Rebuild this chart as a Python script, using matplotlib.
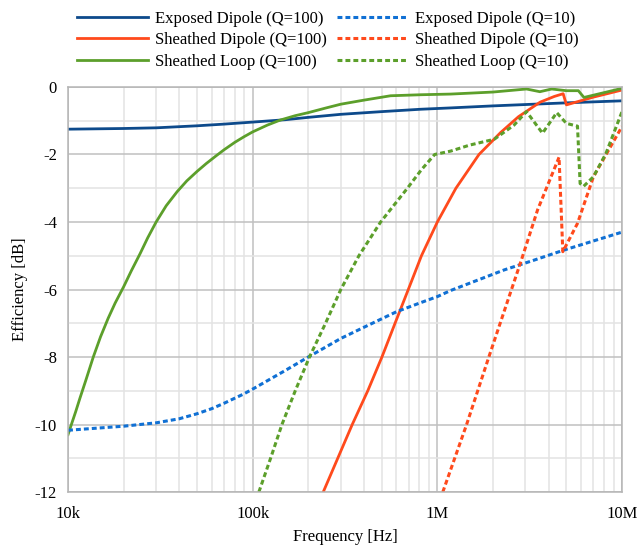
import numpy as np
from matplotlib import pyplot as plt
from matplotlib.ticker import FixedLocator, LogLocator, NullFormatter, MultipleLocator

plt.rcParams['font.family'] = ['Liberation Serif', 'DejaVu Serif']
plt.rcParams['axes.unicode_minus'] = False

# frequencies in Hz, efficiency in dB
exp_q100_f = [1e4, 2e4, 3e4, 5e4, 7e4, 1e5, 1.5e5, 2e5, 3e5, 5e5, 8.1e5, 1.18e6, 2e6, 5e6, 1e7]
exp_q100_db = [-1.25, -1.23, -1.21, -1.15, -1.1, -1.04, -0.97, -0.9, -0.81, -0.73, -0.66, -0.62, -0.56, -0.47, -0.41]

exp_q10_f = [1e4, 2e4, 3e4, 4e4, 5e4, 6e4, 7e4, 8e4, 8.9e4, 1e5, 1.5e5, 2e5, 3e5, 4e5, 6e5, 8.12e5,
             1e6, 1.18e6, 2.3e6, 3.34e6, 4.86e6, 1e7]
exp_q10_db = [-10.17, -10.05, -9.95, -9.83, -9.68, -9.53, -9.37, -9.22, -9.1, -8.95, -8.4, -8.0, -7.45, -7.12,
              -6.66, -6.39, -6.21, -6.03, -5.42, -5.13, -4.83, -4.3]

sh_q100_f = [2.41e5, 3.46e5, 4.2e5, 5.01e5, 5.9e5, 6.96e5, 8.2e5, 1e6, 1.26e6, 1.68e6, 2.2e6, 2.75e6,
             3.6e6, 4.3e6, 4.8e6, 5.0e6, 7e6, 1e7]
sh_q100_db = [-12, -10, -9, -8, -7, -6, -5, -4, -3, -2, -1.35, -0.88,
              -0.45, -0.28, -0.2, -0.53, -0.3, -0.09]

sh_q10_f = [1.07e6, 1.44e6, 1.9e6, 2.52e6, 2.85e6, 3.49e6, 4.56e6, 4.78e6, 5.74e6, 7e6, 1e7]
sh_q10_db = [-12, -10, -8, -6, -5.13, -3.64, -2.08, -4.88, -4.04, -2.66, -1.17]

loop_q100_f = [1e4, 1.05e4, 1.1e4, 1.16e4, 1.25e4, 1.37e4, 1.5e4, 1.65e4, 1.8e4, 2e4, 2.2e4, 2.46e4,
               2.7e4, 3e4, 3.4e4, 3.9e4, 4.4e4, 5e4, 5.6e4, 6.3e4, 7e4, 8e4, 9e4, 1e5, 1.2e5, 1.41e5,
               1.7e5, 2e5, 2.5e5, 3e5, 4e5, 5.58e5, 8.12e5, 1.18e6, 2e6, 3.04e6, 3.59e6, 4.16e6, 5e6,
               5.8e6, 6.22e6, 1e7]
loop_q100_db = [-10.3, -9.95, -9.62, -9.22, -8.68, -8.0, -7.4, -6.85, -6.4, -5.92, -5.45, -4.93,
                -4.47, -4.0, -3.52, -3.1, -2.78, -2.5, -2.27, -2.05, -1.86, -1.64, -1.47, -1.33, -1.13, -0.98,
                -0.85, -0.76, -0.62, -0.51, -0.39, -0.26, -0.23, -0.21, -0.15, -0.06, -0.14, -0.06, -0.11,
                -0.11, -0.31, -0.04]

loop_q10_f = [1.08e5, 1.25e5, 1.44e5, 1.7e5, 2.03e5, 2.48e5, 3e5, 3.76e5, 4.93e5, 6.88e5, 8.2e5, 9.67e5,
              1.18e6, 1.5e6, 2.03e6, 2.6e6, 3.04e6, 3.71e6, 4.43e6, 5e6, 5.74e6, 5.93e6, 6.2e6, 7e6,
              8.18e6, 1e7]
loop_q10_db = [-12, -11, -10, -9, -8, -7, -6, -5, -4, -3, -2.45, -2.0,
               -1.9, -1.72, -1.55, -1.13, -0.73, -1.37, -0.76, -1.08, -1.16, -2.86, -2.94, -2.66,
               -1.97, -0.73]

dark_blue = '#0d4a8b'
light_blue = '#1070d4'
red = '#ff4a1c'
green = '#5c9f2b'
dots = (0, (1.6, 1.0))

fig = plt.figure(figsize=(6.37, 5.45), dpi=100)
ax = fig.add_axes([0.1068, 0.0972, 0.8697, 0.7432])

ax.plot(exp_q100_f, exp_q100_db, color=dark_blue, lw=2, label='Exposed Dipole (Q=100)')
ax.plot(sh_q100_f, sh_q100_db, color=red, lw=2, label='Sheathed Dipole (Q=100)')
ax.plot(loop_q100_f, loop_q100_db, color=green, lw=2, label='Sheathed Loop (Q=100)')
ax.plot(exp_q10_f, exp_q10_db, color=light_blue, lw=2.2, ls=dots, label='Exposed Dipole (Q=10)')
ax.plot(sh_q10_f, sh_q10_db, color=red, lw=2.2, ls=dots, label='Sheathed Dipole (Q=10)')
ax.plot(loop_q10_f, loop_q10_db, color=green, lw=2.2, ls=dots, label='Sheathed Loop (Q=10)')

ax.set_xscale('log')
ax.set_xlim(1e4, 1e7)
ax.set_ylim(-12, 0)
ax.xaxis.set_major_locator(FixedLocator([1e4, 1e5, 1e6, 1e7]))
ax.set_xticklabels(['10k', '100k', '1M', '10M'])
ax.xaxis.set_minor_locator(LogLocator(base=10, subs=np.arange(2, 10)))
ax.xaxis.set_minor_formatter(NullFormatter())
ax.yaxis.set_major_locator(MultipleLocator(2))
ax.yaxis.set_minor_locator(MultipleLocator(1))
ax.grid(which='major', color='#c0c0c0', lw=1.1)
ax.grid(which='minor', color='#e3e3e3', lw=1.1)
ax.set_axisbelow(True)
for s in ax.spines.values():
    s.set_color('#b5b5b5')
    s.set_linewidth(1.1)
ax.tick_params(which='both', length=0, labelsize=12)
ax.tick_params(axis='x', pad=10)
ax.tick_params(axis='y', pad=8)
ax.set_xlabel('Frequency [Hz]', fontsize=12, labelpad=5)
ax.set_ylabel('Efficiency [dB]', fontsize=12, labelpad=5)

fig.legend(loc='upper left', bbox_to_anchor=(77 / 637, 1 - 11 / 545), ncol=2, frameon=False, fontsize=12,
           borderpad=0, borderaxespad=0, handlelength=4.25, columnspacing=0.6,
           labelspacing=0.32, handletextpad=0.42)

fig.savefig('out.png', dpi=100)
